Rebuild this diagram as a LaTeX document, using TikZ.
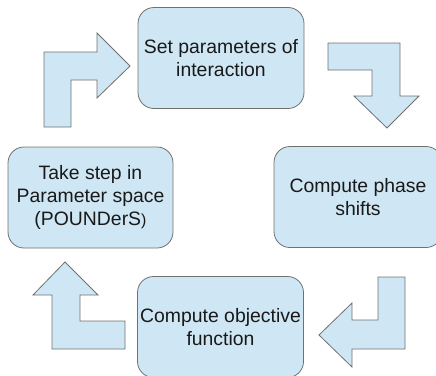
\documentclass[tikz,border=0pt]{standalone}
\usepackage{fontspec}
\setmainfont{Liberation Sans}
\definecolor{boxfill}{RGB}{207,231,245}
\definecolor{boxline}{RGB}{112,112,112}
\begin{document}
\begin{tikzpicture}[x=1pt,y=-1pt,
  stage/.style={draw=boxline, fill=boxfill, line width=0.8pt,
    rounded corners=16pt, align=center, inner sep=0pt,
    minimum width=166pt, minimum height=101pt,
    font=\fontsize{19.4}{23}\selectfont, text=black!90},
  blockarrow/.style={draw=boxline, fill=boxfill, line width=0.8pt, line join=miter}]
\useasboundingbox (0,0) rectangle (436,375);
\clip (0,0) rectangle (436,375);

% the four stages of the loop
\node[stage] (set)  at (221,58)    {Set parameters of\\interaction};
\node[stage, minimum width=168pt] (phase) at (358,197) {Compute phase\\shifts};
\node[stage] (obj)  at (220.5,327) {Compute objective\\function};
\node[stage, minimum width=165pt] (step) at (90.5,197.5)
  {Take step in\\Parameter space\\(POUNDerS{\fontsize{16}{23}\selectfont)}};

% bent block arrows between the stages
\draw[blockarrow] (44,127) -- (44,52) -- (97,52) -- (97,33) -- (130,66)
  -- (97,98) -- (97,80) -- (71,80) -- (71,127) -- cycle;
\draw[blockarrow] (328,43) -- (400,43) -- (400,96) -- (419,96) -- (387,128)
  -- (354,96) -- (372,96) -- (372,70) -- (328,70) -- cycle;
\draw[blockarrow] (378,277) -- (405,277) -- (405,349) -- (352,349) -- (352,367)
  -- (319,335) -- (352,303) -- (352,320) -- (378,320) -- cycle;
\draw[blockarrow] (65,262) -- (98,295) -- (80,295) -- (80,321) -- (125,321)
  -- (125,349) -- (52,349) -- (52,295) -- (33,295) -- cycle;
\end{tikzpicture}
\end{document}
